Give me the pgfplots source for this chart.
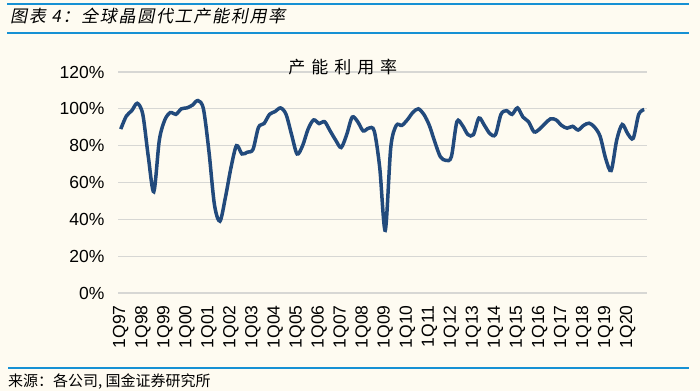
\documentclass[border=0pt]{standalone}
\usepackage{pgfplots}
\pgfplotsset{compat=1.18}
\usepackage{fontspec}
\setmainfont{Liberation Sans}
\newfontfamily\cjk{Noto Sans CJK SC}
\newfontfamily\cjkh[FakeSlant=0.2,LetterSpace=10]{Noto Sans CJK SC}
\newfontfamily\cjkt[LetterSpace=35]{Noto Sans CJK SC}
\definecolor{bg}{RGB}{254,251,241}
\definecolor{hblue}{RGB}{22,145,212}
\definecolor{lineblue}{RGB}{34,74,124}
\definecolor{gridgray}{RGB}{215,215,212}
\pgfplotstableread{
idx val
0 89
1 96
2 99
3 103
4 97
5 74
6 55
7 83
8 94
9 98
10 97
11 100
12 100.5
13 102
14 104.5
15 100
16 77
17 48
18 39
19 52
20 68
21 80
22 75.5
23 76.5
24 78
25 90
26 92
27 97
28 98.5
29 100.5
30 97
31 86
32 75.5
33 80
34 89
35 94
36 92
37 93
38 88
39 83
40 79
41 86
42 95.5
43 93
44 88
45 89.5
46 88
47 68
48 34
49 79
50 91
51 91
52 94
53 98
54 100
55 97
56 91
57 82
58 74
59 72
60 74
61 93
62 91
63 86
64 86
65 95
66 91
67 86.5
68 86
69 97
70 99
71 97
72 100.5
73 95.5
74 93
75 87.5
76 89
77 92
78 94.6
79 94
80 91
81 89.5
82 90.5
83 88.5
84 91
85 92.2
86 90
87 85
88 73
89 66.5
90 83
91 91.5
92 86.5
93 84
94 97
95 99.6
}\util
\begin{document}
\begin{tikzpicture}
\fill[bg] (0,0) rectangle (700bp,391bp);
\draw[hblue, line width=2bp] (7bp,387bp) -- (689bp,387bp);
\draw[hblue, line width=2bp] (7bp,358bp) -- (689bp,358bp);
\draw[hblue, line width=2bp] (8bp,23bp) -- (689bp,23bp);
\node[anchor=west, inner sep=0pt] at (10bp,375bp) {\fontsize{17bp}{20bp}\cjkh 图表 4：全球晶圆代工产能利用率};
\node[anchor=west, inner sep=0pt] at (8bp,9bp) {\fontsize{15bp}{17bp}\cjk 来源：各公司, 国金证券研究所};
\begin{axis}[
  at={(118bp,98bp)}, anchor=south west,
  scale only axis, width=529bp, height=221bp,
  xmin=-0.5, xmax=95.5, ymin=0, ymax=120,
  axis line style={draw=none},
  major tick length=0pt,
  ymajorgrids, major grid style={gridgray, line width=1.3bp},
  ytick={0,20,...,120},
  yticklabel={\pgfmathprintnumber{\tick}\%},
  yticklabel style={font=\fontsize{17.5bp}{20bp}\selectfont, xshift=-10bp},
  xtick={0,4,...,92},
  xticklabels={1Q97,1Q98,1Q99,1Q00,1Q01,1Q02,1Q03,1Q04,1Q05,1Q06,1Q07,1Q08,1Q09,1Q10,1Q11,1Q12,1Q13,1Q14,1Q15,1Q16,1Q17,1Q18,1Q19,1Q20},
  xticklabel style={font=\fontsize{17.5bp}{20bp}\selectfont, rotate=90, anchor=east},
  xticklabel shift=9bp,
  /pgf/number format/assume math mode=true,
  title={\fontsize{17bp}{19bp}\cjkt 产能利用率},
  title style={at={(axis description cs:0.425,1)}, anchor=center, yshift=-1bp},
]
\addplot[lineblue, line width=3.5bp, smooth, tension=0.5] table[x=idx, y=val] {\util};
\end{axis}
\end{tikzpicture}
\end{document}
